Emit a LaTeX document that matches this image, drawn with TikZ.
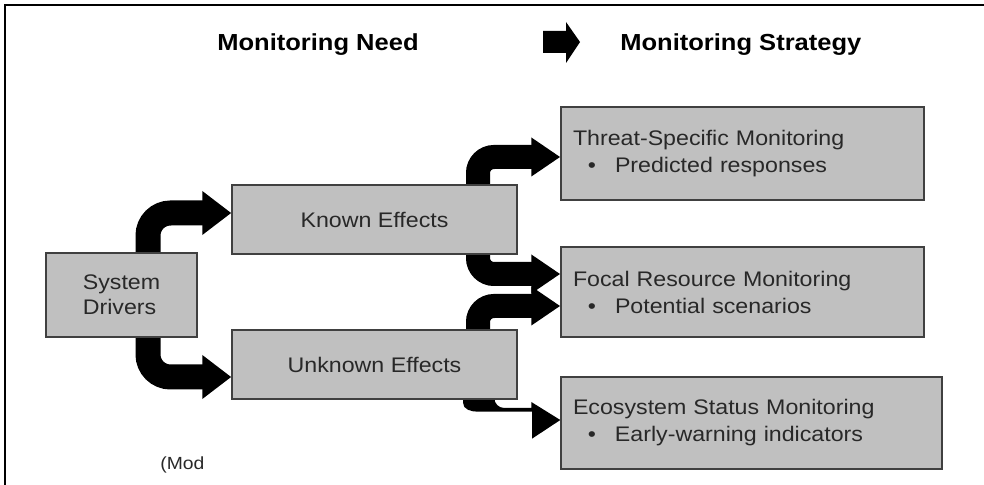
\documentclass[tikz,border=0pt]{standalone}
\usepackage{fontspec}
\setmainfont{Liberation Sans}[FakeStretch=1.1]
\usepackage{xcolor}
\usepackage{tikz}
\usetikzlibrary{positioning,arrows.meta}
\pgfdeclarelayer{nodelayer}
\pgfdeclarelayer{edgelayer}
\pgfsetlayers{edgelayer,main,nodelayer}
\definecolor{boxgray}{RGB}{192,192,192}
\definecolor{boxline}{RGB}{64,64,64}
\definecolor{txtgray}{RGB}{40,40,40}
\tikzstyle{need_box}=[rectangle, fill=boxgray, draw=boxline, line width=0.8pt, text=txtgray, align=left, inner sep=0pt, font=\fontsize{12}{14.2}\selectfont]
\tikzstyle{strat_box}=[need_box, inner xsep=0.24cm, font=\fontsize{12}{15.4}\selectfont]
\tikzstyle{head_text}=[anchor=west, inner sep=0pt, font=\bfseries\fontsize{13.2}{15}\selectfont]
\tikzstyle{bigChan}=[black, line width=0.5cm, rounded corners=0.45cm, -{Triangle[length=0.58cm, width=0.84cm]}]
\tikzstyle{bigChan_r}=[black, line width=0.48cm, rounded corners=0.32cm, -{Triangle[length=0.58cm, width=0.74cm]}]
\newcommand{\bitem}[1]{\makebox[0.84cm][r]{\textbullet\hspace{0.38cm}}#1}

\begin{document}
\begin{tikzpicture}
        \useasboundingbox (0,0) rectangle (19.68,9.70);
        % frame
        \draw[line width=0.05cm] (0.1,0) -- (0.1,9.6) -- (19.68,9.6);

        % headings
        \node [style=head_text] (NeedHead) at (4.34, 8.80) {Monitoring Need};
        \node [style=head_text] (StratHead) at (12.40, 8.80) {Monitoring Strategy};
        \fill (10.86,8.64) -- (11.32,8.64) -- (11.32,8.44) -- (11.60,8.86) -- (11.32,9.26) -- (11.32,9.08) -- (10.86,9.08) -- cycle;

        \begin{pgfonlayer}{nodelayer}
            \node [style=need_box, minimum width=3.02cm, minimum height=1.68cm] (Drivers) at (2.43, 3.80) {System\\Drivers};
            \node [style=need_box, minimum width=5.70cm, minimum height=1.38cm] (Known) at (7.49, 5.31) {Known Effects};
            \node [style=need_box, minimum width=5.70cm, minimum height=1.38cm] (Unknown) at (7.49, 2.41) {Unknown Effects};

            \node [style=strat_box, text width=6.78cm, minimum height=1.86cm] (Threat) at (14.85, 6.63) {Threat-Specific Monitoring\\\bitem{Predicted responses}};
            \node [style=strat_box, text width=6.78cm, minimum height=1.80cm] (Focal) at (14.85, 3.86) {Focal Resource Monitoring\\\bitem{Potential scenarios}};
            \node [style=strat_box, text width=7.14cm, minimum height=1.84cm] (Eco) at (15.03, 1.24) {Ecosystem Status Monitoring\\\bitem{Early-warning indicators}};
        \end{pgfonlayer}

        \begin{pgfonlayer}{edgelayer}
            \draw [style={bigChan}] ([xshift=0.53cm]Drivers.north) |- ([yshift=0.13cm]Known.west);
            \draw [style={bigChan}] ([xshift=0.53cm]Drivers.south) |- ([yshift=-0.25cm]Unknown.west);

            \draw [style={bigChan_r}] ([xshift=2.07cm]Known.north) |- ([yshift=-0.07cm]Threat.west);
            \draw [style={bigChan_r}] ([xshift=2.07cm]Known.south) |- ([yshift=0.36cm]Focal.west);
            \draw [style={bigChan_r}] ([xshift=2.07cm]Unknown.north) |- ([yshift=-0.28cm]Focal.west);
            % squashed arrow to ecosystem box
            \fill ([xshift=1.77cm]Unknown.south) -- ++(0,-0.06) to[out=-90,in=180] ++(0.3,-0.18) -- ++(1.08,0) -- ++(0,-0.54) -- ([yshift=0.06cm]Eco.west) -- ++(-0.58,0.36) -- ++(0,-0.12) -- ++(-0.54,0) to[out=180,in=-90] ++(-0.2,0.2) -- cycle;
        \end{pgfonlayer}

        \node [anchor=west, inner sep=0pt, text=txtgray, font=\fontsize{10}{12}\selectfont] (Source) at (3.20, 0.40) {(Mod};
\end{tikzpicture}
\end{document}
